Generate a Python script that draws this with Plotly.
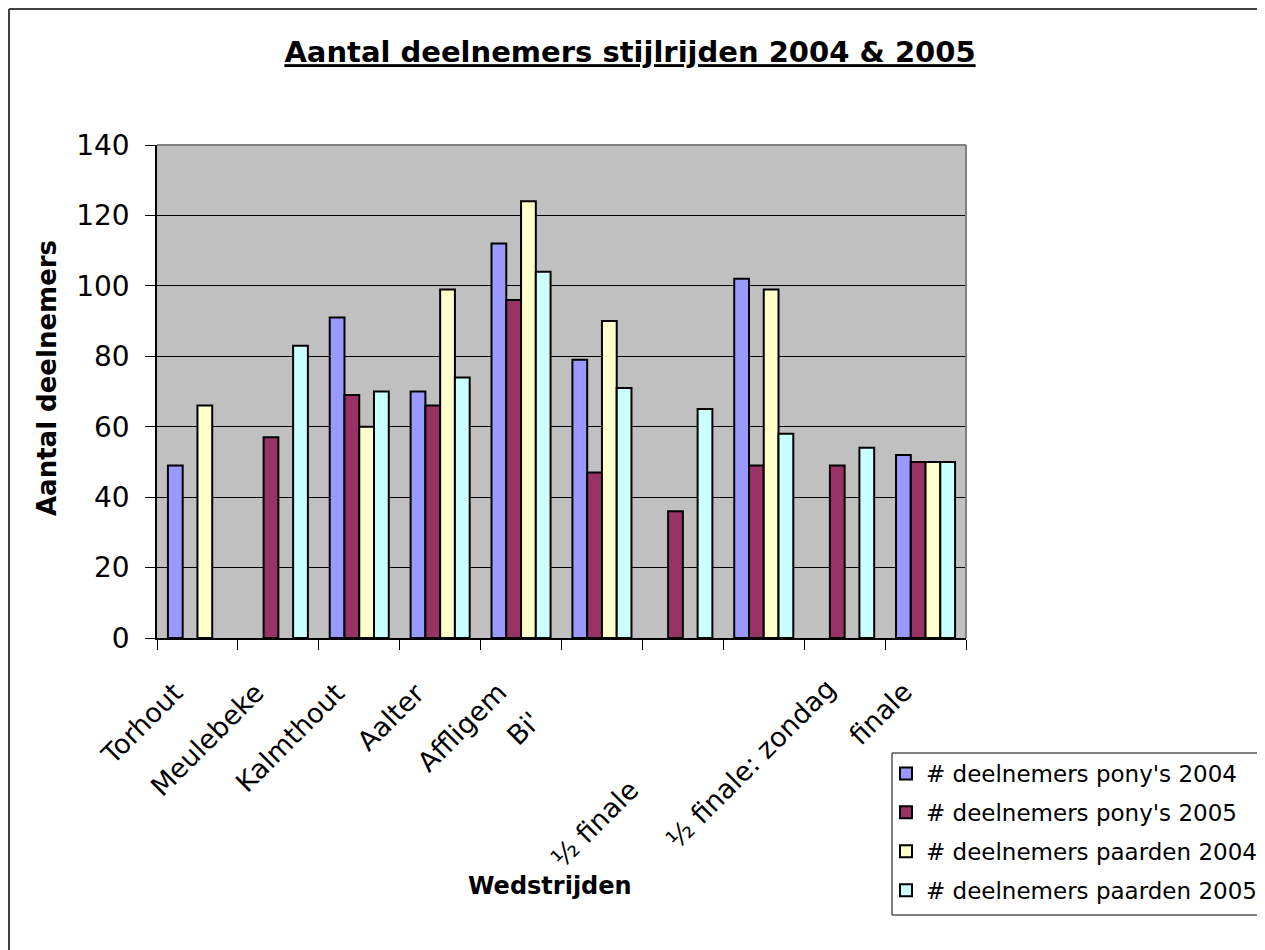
import plotly.graph_objects as go

# ---------------- data ----------------
labels = ["Torhout", "Meulebeke", "Kalmthout", "Aalter", "Affligem",
          "Bi'", "½ finale", "", "½ finale: zondag", "finale"]
pony_2004 = [49, None, 91, 70, 112, 79, None, 102, None, 52]
pony_2005 = [None, 57, 69, 66, 96, 47, 36, 49, 49, 50]
paarden_2004 = [66, None, 60, 99, 124, 90, None, 99, None, 50]
paarden_2005 = [None, 83, 70, 74, 104, 71, 65, 58, 54, 50]
series_names = ["# deelnemers pony's 2004", "# deelnemers pony's 2005",
                "# deelnemers paarden 2004", "# deelnemers paarden 2005"]
y_ticks = [0, 20, 40, 60, 80, 100, 120, 140]

title_text = "Aantal deelnemers stijlrijden 2004 & 2005"
x_title = "Wedstrijden"
y_title = "Aantal deelnemers"

# ---------------- style ----------------
colors = ["#9999FF", "#993366", "#FFFFCC", "#CCFFFF"]
FONT = "DejaVu Sans"
OFF = 8  # page body margin
W, H = 1265, 950
ML, MT = 157 - OFF, 145 - OFF
PW, PH = 809, 493
MR, MB = W - ML - PW, H - MT - PH

# label placement: (dx from group centre in px, top below axis in px)
label_pos = [(-6, 36), (-6, 36), (-6, 36), (-6, 36), (-6, 36),
             (-53, 65), (-35, 133), (0, 36), (0, 32), (-5, 35)]


def px_x(px):
    return (px - OFF - ML) / PW


def px_y(py):
    return (MT + PH - (py - OFF)) / PH


x = list(range(len(labels)))
series = [pony_2004, pony_2005, paarden_2004, paarden_2005]

fig = go.Figure()
for i, (name, vals) in enumerate(zip(series_names, series)):
    fig.add_trace(go.Bar(
        x=x, y=vals, name=name, legendgroup=f"g{i}",
        marker=dict(color=colors[i], line=dict(color="black", width=2)),
    ))

annotations = []
for i, lab in enumerate(labels):
    if not lab:
        continue
    dx, top = label_pos[i]
    annotations.append(dict(
        x=x[i], xref="x", y=0, yref="paper", text=lab, showarrow=False,
        textangle=-45, xanchor="right", yanchor="top",
        xshift=dx, yshift=-top,
        font=dict(family=FONT, size=27, color="black"),
    ))

annotations.append(dict(
    x=px_x(550), xref="paper", y=px_y(886), yref="paper", text=f"<b>{x_title}</b>",
    showarrow=False, xanchor="center", yanchor="middle",
    font=dict(family=FONT, size=24, color="black"),
))
annotations.append(dict(
    x=px_x(47), xref="paper", y=px_y(378), yref="paper", text=f"<b>{y_title}</b>",
    showarrow=False, textangle=-90, xanchor="center", yanchor="middle",
    font=dict(family=FONT, size=26, color="black"),
))

shapes = [
    # plot-area border (top & right, grey)
    dict(type="line", xref="paper", yref="paper", x0=0, x1=1, y0=1, y1=1,
         line=dict(color="#808080", width=2), layer="above"),
    dict(type="line", xref="paper", yref="paper", x0=1, x1=1, y0=0, y1=1,
         line=dict(color="#808080", width=2), layer="above"),
    # outer chart border (left & top)
    dict(type="line", xref="paper", yref="paper", x0=px_x(9), x1=px_x(9),
         y0=px_y(9), y1=px_y(970), line=dict(color="#404040", width=2)),
    dict(type="line", xref="paper", yref="paper", x0=px_x(9), x1=px_x(1285),
         y0=px_y(9), y1=px_y(9), line=dict(color="#404040", width=2)),
    # legend box (runs past the right edge like the original)
    dict(type="rect", xref="paper", yref="paper", x0=px_x(892), x1=px_x(1300),
         y0=px_y(753), y1=px_y(915), fillcolor="white",
         line=dict(color="black", width=1), layer="below"),
]

fig.update_layout(
    width=W, height=H,
    margin=dict(l=ML, r=MR, t=MT, b=MB, autoexpand=False),
    paper_bgcolor="white", plot_bgcolor="#C0C0C0",
    barmode="group", bargap=0.27, bargroupgap=0,
    title=dict(text=f"<b><u>{title_text}</u></b>", x=(630 - OFF) / W, xref="container",
               xanchor="center", y=1 - (52 - OFF) / H, yref="container", yanchor="middle",
               font=dict(family=FONT, size=29, color="black")),
    xaxis=dict(range=[-0.5, len(labels) - 0.5], tickvals=[i - 0.5 for i in range(len(labels) + 1)],
               ticktext=[""] * (len(labels) + 1), ticks="outside", ticklen=10,
               tickcolor="black", tickwidth=1, showgrid=False, zeroline=False,
               showline=True, linecolor="black", linewidth=1.5, fixedrange=True),
    yaxis=dict(range=[0, 140], tickvals=y_ticks, ticks="outside", ticklen=10,
               tickcolor="black", tickwidth=1, showgrid=True, gridcolor="black",
               gridwidth=1, zeroline=False, showline=True, linecolor="black",
               linewidth=1.5, ticklabelstandoff=10,
               tickfont=dict(family=FONT, size=28, color="black")),
    legend=dict(x=px_x(886), y=px_y(752), xanchor="left", yanchor="top",
                bgcolor="rgba(0,0,0,0)", borderwidth=0,
                font=dict(family=FONT, size=23, color="black"),
                traceorder="grouped", tracegroupgap=6, itemwidth=30),
    annotations=annotations,
    shapes=shapes,
)

fig.write_html("out.html")
